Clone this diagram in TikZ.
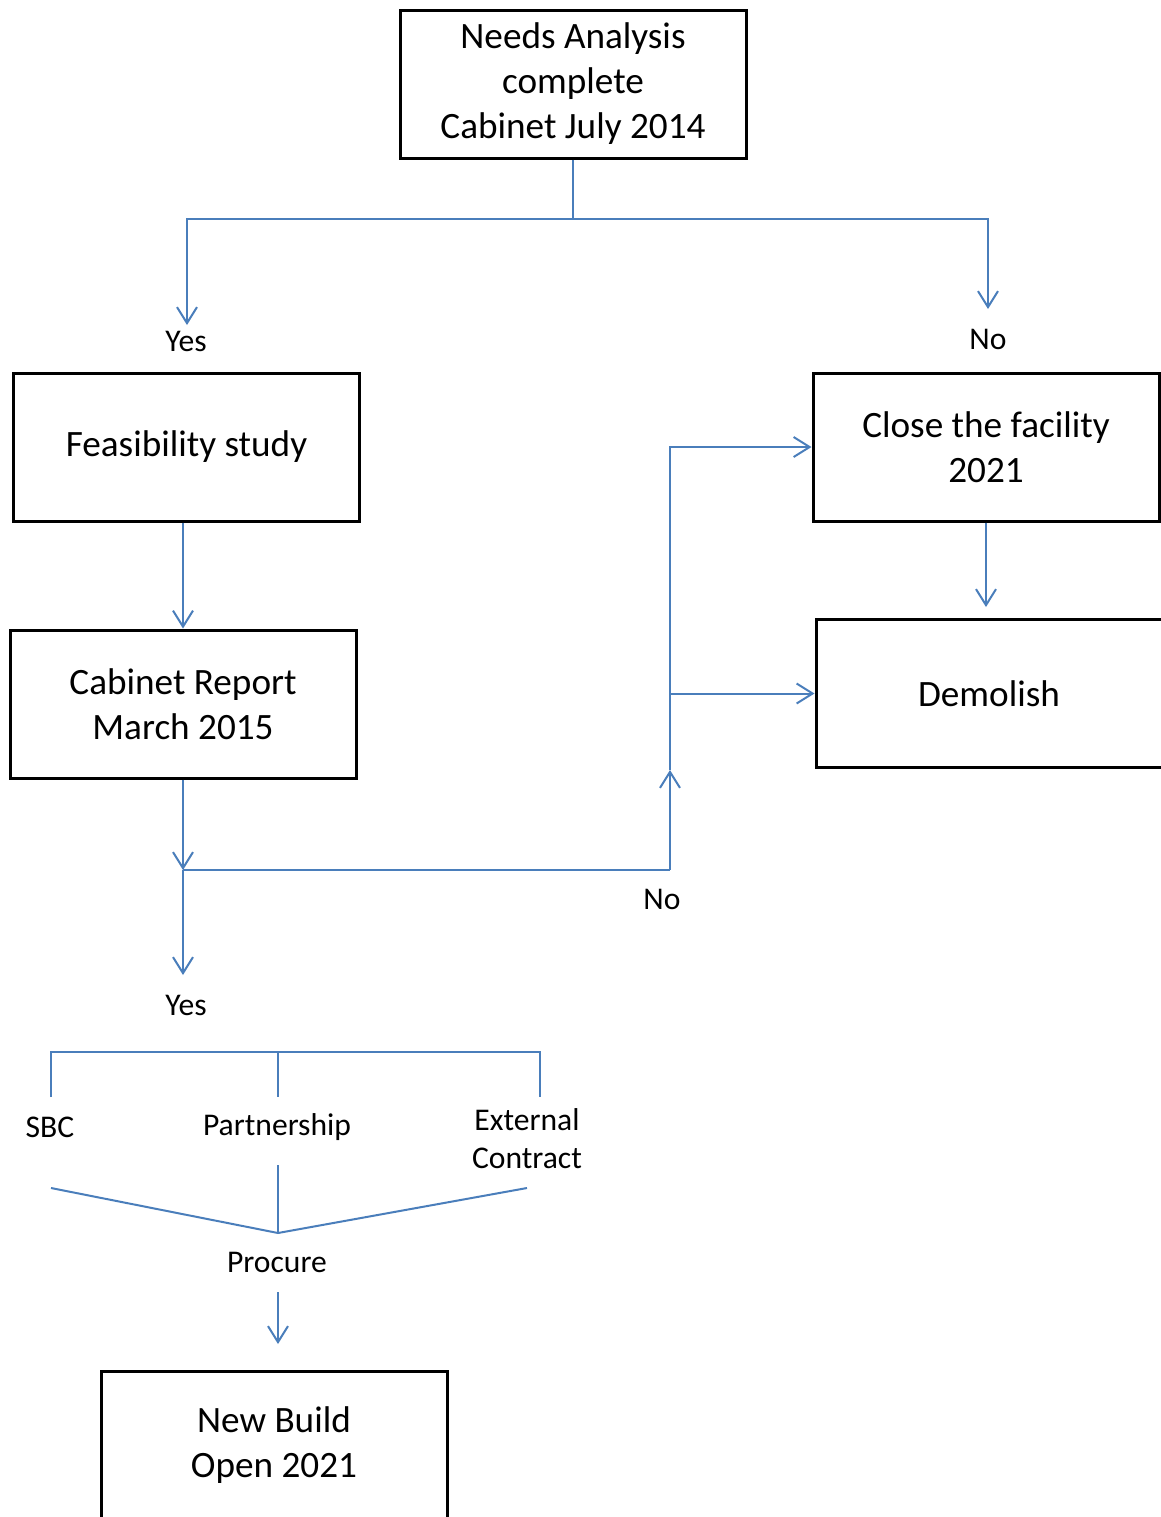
\documentclass[tikz,border=0pt]{standalone}
\usepackage{fontspec}
\setmainfont{Carlito}
\usetikzlibrary{arrows.meta}
\definecolor{myblue}{HTML}{4A7EBB}
\newcommand\boxfont{\fontsize{18.6pt}{22.5pt}\selectfont}
\newcommand\lblfont{\fontsize{15.8pt}{19pt}\selectfont}
\tikzset{
  box/.style={draw=black, line width=1.5pt, minimum width=173pt, minimum height=74pt, align=center, font=\boxfont, inner sep=0pt},
  lbl/.style={font=\lblfont, align=center, inner sep=0pt},
  conn/.style={draw=myblue, line width=1pt},
  arr/.style={conn, -{Straight Barb[length=8pt,width=10pt]}},
}
\begin{document}
\begin{tikzpicture}[x=0.5pt,y=-0.5pt]
\useasboundingbox (0,0) rectangle (1161,1517);
% boxes
\node[box] (top) at (573,84) {Needs Analysis\\complete\\Cabinet July 2014};
\node[box] (feas) at (186.5,447) {Feasibility study};
\node[box] (cab) at (183,704) {Cabinet Report\\March 2015};
\node[box] (close) at (986,447) {Close the facility\\2021};
\node[box] (demol) at (989,693.5) {Demolish};
\node[box] (nb) at (274,1445.5) {New Build\\Open 2021};
% labels
\node[lbl] (yes1) at (186,341) {Yes};
\node[lbl] (no1) at (988,339) {No};
\node[lbl] (no2) at (662,899) {No};
\node[lbl] (yes2) at (186,1005) {Yes};
\node[lbl] (sbc) at (50,1127) {SBC};
\node[lbl] (part) at (277,1127) {Partnership};
\node[lbl] (ext) at (527,1139) {External\\Contract};
\node[lbl] (proc) at (277,1262) {Procure};
% coordinates
\coordinate (jm) at (573,219);
\coordinate (t1) at (187,325);
\coordinate (t2) at (988,309);
\coordinate (j2) at (183,870);
\coordinate (j3) at (670,870);
\coordinate (up) at (670,770);
\coordinate (t4) at (183,975);
\coordinate (bm) at (278,1052);
\coordinate (bl) at (51,1097);
\coordinate (bmd) at (278,1097);
\coordinate (br) at (540,1097);
\coordinate (fl) at (51,1188);
\coordinate (fr) at (527,1188);
\coordinate (fm) at (278,1233);
\coordinate (ft) at (278,1165);
\coordinate (pa) at (278,1292);
\coordinate (pb) at (278,1344);
% connectors
\draw[conn] (top.south) -- (jm);
\draw[arr] (jm) -| (t1);
\draw[arr] (jm) -| (t2);
\draw[arr] (cab.north |- feas.south) -- (cab.north);
\draw[arr, shorten >=5.5pt] (close.south) -- (close.south |- demol.north);
\draw[arr] (cab.south) -- (j2);
\draw[conn] (j2) -- (j3);
\draw[arr] (j3) -- (up);
\draw[arr] (up) |- (close.west);
\draw[arr] (up |- demol.west) -- (demol.west);
\draw[arr] (j2) -- (t4);
\draw[conn] (bl) -- (bl |- bm) -- (br |- bm) -- (br);
\draw[conn] (bm) -- (bmd);
\draw[conn] (fl) -- (fm) -- (fr);
\draw[conn] (ft) -- (fm);
\draw[arr] (pa) -- (pb);
\end{tikzpicture}
\end{document}
